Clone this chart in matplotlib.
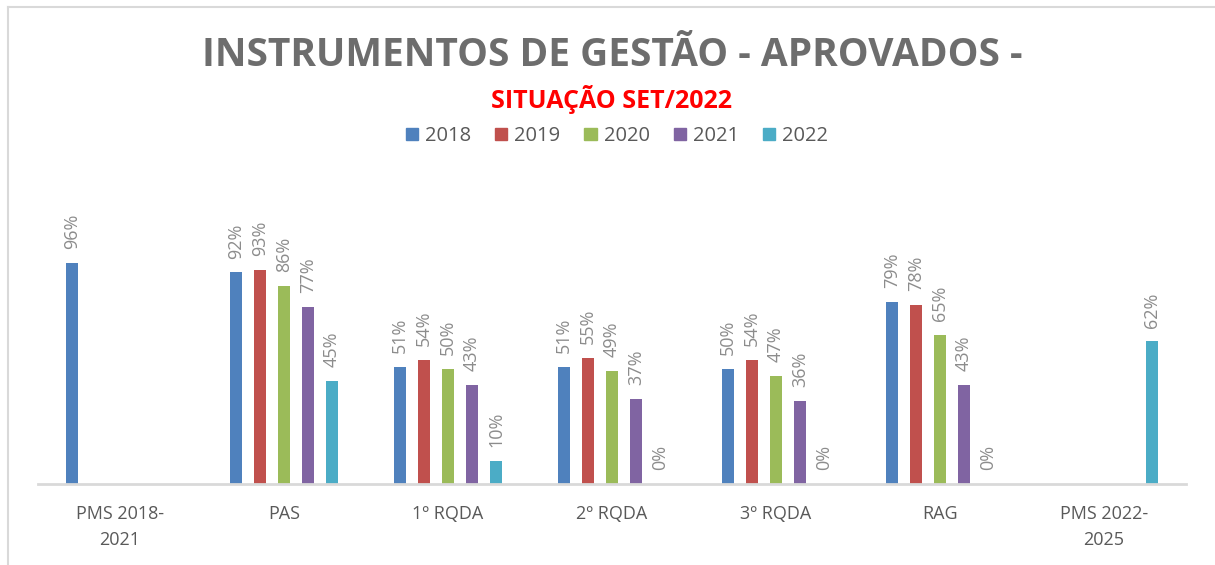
import numpy as np
import matplotlib
matplotlib.use("Agg")
import matplotlib.pyplot as plt
from matplotlib.lines import Line2D

categories = ["PMS 2018-\n2021", "PAS", "1º RQDA", "2º RQDA", "3º RQDA", "RAG", "PMS 2022-\n2025"]
series = ["2018", "2019", "2020", "2021", "2022"]
v2018 = [96, 92, 51, 51, 50, 79, np.nan]
v2019 = [np.nan, 93, 54, 55, 54, 78, np.nan]
v2020 = [np.nan, 86, 50, 49, 47, 65, np.nan]
v2021 = [np.nan, 77, 43, 37, 36, 43, np.nan]
v2022 = [np.nan, 45, 10, 0, 0, 0, 62]
values = [v2018, v2019, v2020, v2021, v2022]
colors = ["#4F81BD", "#C0504D", "#9BBB59", "#8064A2", "#4BACC6"]

W, H = 1215, 565
fig = plt.figure(figsize=(W / 100, H / 100), dpi=100)
font = "Open Sans"

base_y = 484
px_per_pct = 2.30
top_pct = 120
ax = fig.add_axes([38 / W, (H - base_y) / H, (1186 - 38) / W, top_pct * px_per_pct / H])

x = np.arange(len(categories))
bw = 12 / 164
step = 24 / 164
for i, (s, vals, c) in enumerate(zip(series, values, colors)):
    xs = x + (i - 2) * step
    ax.bar(xs, vals, width=bw, color=c, label=s, zorder=2)
    for xi, v in zip(xs, vals):
        if np.isnan(v):
            continue
        ax.annotate(f"{int(v)}%", (xi, v), xytext=(0, 10), textcoords="offset points",
                    rotation=90, ha="center", va="bottom", fontsize=13,
                    color="#8c8c8c", family=font, annotation_clip=False)

ax.set_xlim(-0.5, len(categories) - 0.5)
ax.set_ylim(0, top_pct)
ax.set_yticks([])
ax.set_xticks(x)
ax.set_xticklabels([])
for sp in ["left", "right", "top"]:
    ax.spines[sp].set_visible(False)
ax.spines["bottom"].set_color("#d9d9d9")
ax.spines["bottom"].set_linewidth(2)
ax.tick_params(axis="x", length=0)

for xi, lab in zip(x, categories):
    ax.annotate(lab, (xi, 0), xytext=(0, -15), textcoords="offset points",
                ha="center", va="top", fontsize=13, color="#595959", family=font,
                linespacing=1.6, annotation_clip=False)

fig.text(612 / W, 1 - 55 / H, "INSTRUMENTOS DE GESTÃO - APROVADOS -", ha="center", va="center",
         fontsize=28, fontweight="bold", color="#6d6d6d", family=font)
fig.text(612 / W, 1 - 99 / H, "SITUAÇÃO SET/2022", ha="center", va="center",
         fontsize=18, fontweight="bold", color="#ff0000", family=font)

handles = [plt.Rectangle((0, 0), 1, 1, color=c) for c in colors]
fig.legend(handles, series, loc="center", bbox_to_anchor=(617 / W, 1 - 136 / H), ncol=5,
           frameon=False, prop={"family": font, "size": 14.5}, labelcolor="#595959",
           handlelength=0.6, handleheight=0.6, handletextpad=0.35, columnspacing=1.2)

# chart border lines (top and left)
fig.add_artist(Line2D([8 / W, 8 / W], [0, 1 - 7 / H], transform=fig.transFigure, color="#d9d9d9", lw=1.5))
fig.add_artist(Line2D([8 / W, 1], [1 - 7 / H, 1 - 7 / H], transform=fig.transFigure, color="#d9d9d9", lw=1.5))

fig.savefig("out.png", dpi=100)
